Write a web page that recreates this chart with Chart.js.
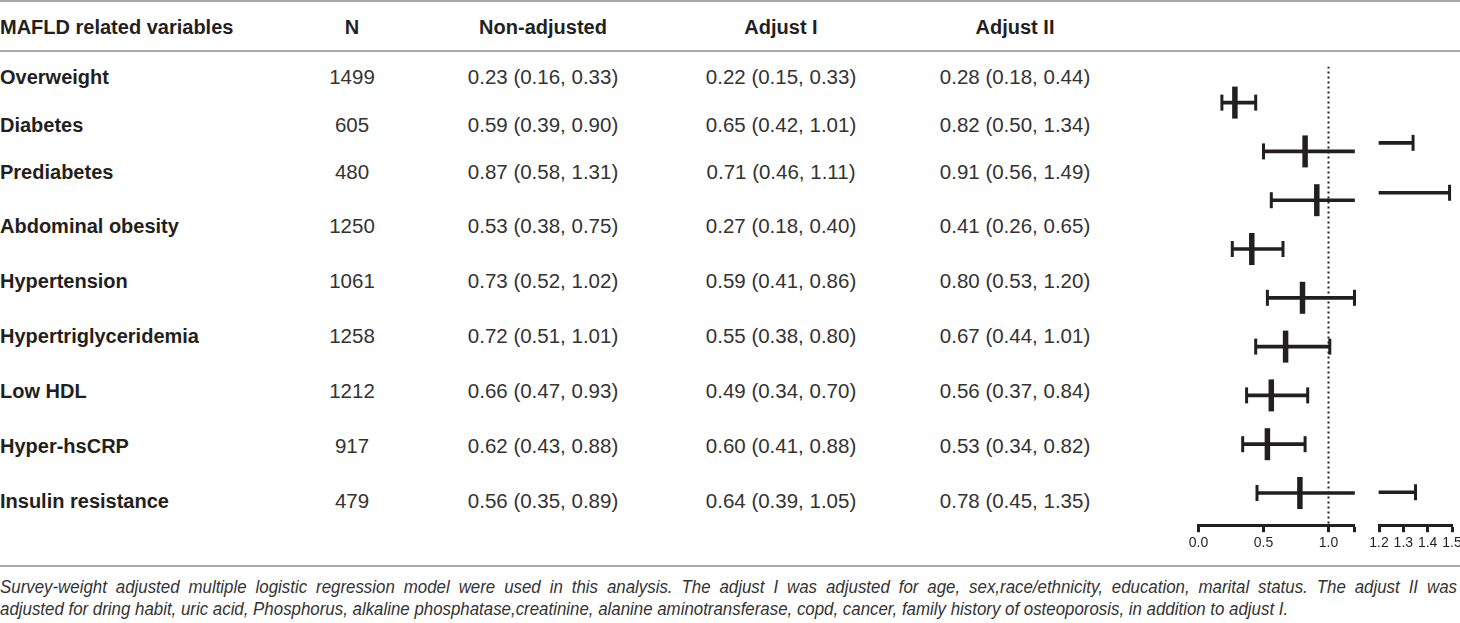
<!DOCTYPE html>
<html>
<head>
<meta charset="utf-8">
<title>MAFLD forest table</title>
<script src="https://cdn.jsdelivr.net/npm/chart.js@4.4.1/dist/chart.umd.min.js"></script>
<style>
  html, body { margin: 0; padding: 0; background: #fff; width: 1460px; height: 623px; overflow: hidden; }
  #page { position: relative; width: 1460px; height: 623px; font-family: "Liberation Sans", Arial, sans-serif; color: #231f20; }
  .rule { position: absolute; left: 0; width: 1460px; height: 2px; background: #a7a9ac; }
  .hd, .nm { position: absolute; font-weight: bold; font-size: 20px; line-height: 24px; white-space: nowrap; }
  .hd.c { transform: translateX(-50%); }
  .val { position: absolute; font-size: 20.5px; line-height: 24px; white-space: nowrap; transform: translateX(-50%); color: #333; }
  .note { position: absolute; left: 0; font-style: italic; font-size: 19px; line-height: 22px; white-space: nowrap; color: #333; transform-origin: 0 50%; }
  .note.full { text-align: justify; text-align-last: justify; }
  .plot { position: absolute; }
  canvas { display: block; }
</style>
</head>
<body>
<div id="page">
  <div class="rule" style="top:0px"></div>
  <div class="rule" style="top:50px"></div>
  <div class="rule" style="top:565px"></div>
  <div class="plot" style="left:1177px; top:45px; width:199px; height:510px;"><canvas id="forestA" width="199" height="510"></canvas></div>
  <div class="plot" style="left:1359px; top:45px; width:113px; height:510px;"><canvas id="forestB" width="113" height="510"></canvas></div>
</div>
<script>
// table rows
const categories = ["Overweight", "Diabetes", "Prediabetes", "Abdominal obesity", "Hypertension",
  "Hypertriglyceridemia", "Low HDL", "Hyper-hsCRP", "Insulin resistance"];
const nCount = [1499, 605, 480, 1250, 1061, 1258, 1212, 917, 479];

// Non-adjusted OR (95% CI)
const nonAdjOR = [0.23, 0.59, 0.87, 0.53, 0.73, 0.72, 0.66, 0.62, 0.56];
const nonAdjLo = [0.16, 0.39, 0.58, 0.38, 0.52, 0.51, 0.47, 0.43, 0.35];
const nonAdjHi = [0.33, 0.90, 1.31, 0.75, 1.02, 1.01, 0.93, 0.88, 0.89];

// Adjust I
const adj1OR = [0.22, 0.65, 0.71, 0.27, 0.59, 0.55, 0.49, 0.60, 0.64];
const adj1Lo = [0.15, 0.42, 0.46, 0.18, 0.41, 0.38, 0.34, 0.41, 0.39];
const adj1Hi = [0.33, 1.01, 1.11, 0.40, 0.86, 0.80, 0.70, 0.88, 1.05];

// Adjust II (the one drawn in the forest plot)
const adj2OR = [0.28, 0.82, 0.91, 0.41, 0.80, 0.67, 0.56, 0.53, 0.78];
const adj2Lo = [0.18, 0.50, 0.56, 0.26, 0.53, 0.44, 0.37, 0.34, 0.45];
const adj2Hi = [0.44, 1.34, 1.49, 0.65, 1.20, 1.01, 0.84, 0.82, 1.35];

// axis: broken at 1.2
const ticksLeft = [0, 0.5, 1.0];
const axisBreak = 1.2;
const ticksRight = [1.2, 1.3, 1.4, 1.5];
const refValue = 1.0;

const headers = ["MAFLD related variables", "N", "Non-adjusted", "Adjust I", "Adjust II"];
const noteLines = [
  "Survey-weight adjusted multiple logistic regression model were used in this analysis. The adjust I was adjusted for age, sex,race/ethnicity, education, marital status. The adjust II was",
  "adjusted for dring habit, uric acid, Phosphorus, alkaline phosphatase,creatinine, alanine aminotransferase, copd, cancer, family history of osteoporosis, in addition to adjust I."
];

// ---- table text ----
const page = document.getElementById("page");
const colX = [0, 352, 543, 781, 1015];
const rowY = [77, 125, 172, 226, 281, 336, 391, 446, 501];

function addDiv(cls, text, x, y) {
  const d = document.createElement("div");
  d.className = cls;
  d.textContent = text;
  d.style.left = x + "px";
  d.style.top = (y - 12) + "px";
  page.appendChild(d);
  return d;
}
function fmt(or, lo, hi) {
  return or.toFixed(2) + " (" + lo.toFixed(2) + ", " + hi.toFixed(2) + ")";
}

headers.forEach((h, i) => addDiv(i === 0 ? "hd" : "hd c", h, colX[i], 27));
categories.forEach((c, i) => {
  addDiv("nm", c, colX[0], rowY[i]);
  addDiv("val", String(nCount[i]), colX[1], rowY[i]);
  addDiv("val", fmt(nonAdjOR[i], nonAdjLo[i], nonAdjHi[i]), colX[2], rowY[i]);
  addDiv("val", fmt(adj1OR[i], adj1Lo[i], adj1Hi[i]), colX[3], rowY[i]);
  addDiv("val", fmt(adj2OR[i], adj2Lo[i], adj2Hi[i]), colX[4], rowY[i]);
});

// footnote: justified paragraph, the last line keeps its natural width
const notes = noteLines.map((t, i) => {
  const d = document.createElement("div");
  d.className = "note";
  d.textContent = t;
  d.style.top = (576 + i * 22) + "px";
  page.appendChild(d);
  return d;
});
const squeeze = Math.min(1, 1288 / notes[1].scrollWidth);
notes.forEach((d) => { d.style.transform = "scaleX(" + squeeze + ")"; });
notes[0].classList.add("full");
notes[0].style.whiteSpace = "normal";
notes[0].style.width = (1457 / squeeze) + "px";

// ---- forest plot (two halves of a broken axis) ----
const INK = "#231f20";
const Y_MIN = -0.74;
const Y_MAX = 8.66;
const rows = categories.map((c, i) => i);

function xAxis(min, max, tickVals, blankVal) {
  return {
    type: "linear",
    min: min,
    max: max,
    offset: false,
    afterBuildTicks: (scale) => { scale.ticks = tickVals.map((v) => ({ value: v })); },
    ticks: {
      autoSkip: false,
      maxRotation: 0,
      padding: 3,
      color: INK,
      font: { family: "Liberation Sans", size: 14 },
      callback: (v) => (blankVal !== undefined && Math.abs(v - blankVal) < 1e-9 ? "" : v.toFixed(1)),
    },
    grid: { drawOnChartArea: false, drawTicks: true, tickLength: 7, tickWidth: 3, tickColor: INK },
    border: { display: true, width: 3, color: INK },
  };
}
const yAxis = { type: "linear", min: Y_MIN, max: Y_MAX, reverse: true, display: false, offset: false };

function whiskerSet(data) {
  return { type: "bar", indexAxis: "y", data: data, backgroundColor: INK, borderWidth: 0, barThickness: 3, clip: false };
}
function markSet(data, radius, width) {
  return {
    type: "scatter", data: data, clip: false,
    pointStyle: "line", pointRotation: 90, pointRadius: radius, pointHoverRadius: radius,
    pointBorderWidth: width, pointHoverBorderWidth: width, pointBorderColor: INK, pointBackgroundColor: INK,
  };
}

// left half: 0 .. 1.2
const whiskA = rows.map((i) => ({ y: i, x: [adj2Lo[i], Math.min(adj2Hi[i], axisBreak)] }));
const capsA = [];
rows.forEach((i) => {
  capsA.push({ x: adj2Lo[i], y: i });
  if (adj2Hi[i] <= axisBreak) capsA.push({ x: adj2Hi[i], y: i });
});
const pointsA = rows.map((i) => ({ x: adj2OR[i], y: i }));

new Chart(document.getElementById("forestA"), {
  type: "scatter",
  data: {
    datasets: [
      markSet(pointsA, 16, 5.5),
      markSet(capsA, 8, 3),
      whiskerSet(whiskA),
      {
        type: "line",
        data: [{ x: refValue, y: Y_MIN }, { x: refValue, y: Y_MAX }],
        borderColor: INK, borderWidth: 2, borderDash: [2, 3], pointRadius: 0, fill: false,
      },
    ],
  },
  options: {
    responsive: false,
    animation: false,
    events: [],
    layout: { padding: { left: 20, right: 10, top: 7, bottom: 0 } },
    plugins: { legend: { display: false }, tooltip: { enabled: false } },
    scales: { x: xAxis(0, axisBreak, ticksLeft.concat([axisBreak]), axisBreak), y: yAxis },
  },
});

// right half: 1.2 .. 1.5
const crossRows = rows.filter((i) => adj2Hi[i] > axisBreak);
const whiskB = crossRows.map((i) => ({ y: i, x: [axisBreak, adj2Hi[i]] }));
const capsB = crossRows.map((i) => ({ x: adj2Hi[i], y: i }));

new Chart(document.getElementById("forestB"), {
  type: "scatter",
  data: { datasets: [markSet(capsB, 8, 3), whiskerSet(whiskB)] },
  options: {
    responsive: false,
    animation: false,
    events: [],
    layout: { padding: { left: 20, right: 20, top: 7, bottom: 0 } },
    plugins: { legend: { display: false }, tooltip: { enabled: false } },
    scales: { x: xAxis(ticksRight[0], ticksRight[ticksRight.length - 1], ticksRight), y: yAxis },
  },
});
</script>
</body>
</html>
